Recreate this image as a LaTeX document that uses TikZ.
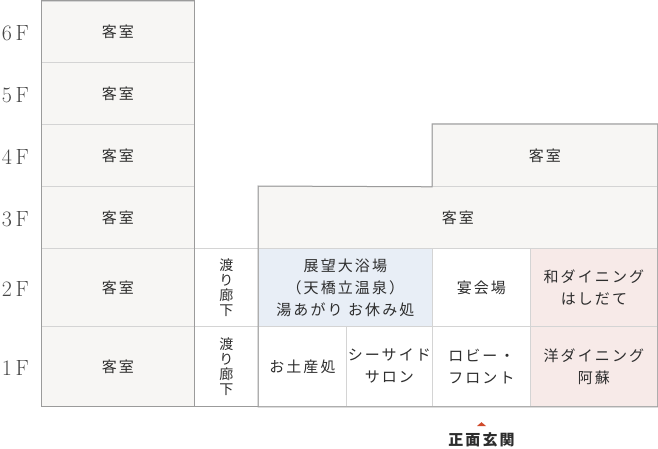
\documentclass[tikz,border=0pt]{standalone}
\usepackage{fontspec}
\newfontfamily\jpfont{Noto Sans CJK JP}[LetterSpace=14]
\newfontfamily\jpnarrow{Noto Sans CJK JP}
\usetikzlibrary{positioning}
\definecolor{RoomFill}{RGB}{247,246,244}
\definecolor{BathFill}{RGB}{232,238,246}
\definecolor{DiningFill}{RGB}{247,234,232}
\definecolor{InnerLine}{RGB}{212,212,212}
\definecolor{OuterLine}{RGB}{155,155,155}
\definecolor{LabelGray}{RGB}{45,45,45}
\definecolor{FloorGray}{RGB}{70,70,70}
\definecolor{EntranceRed}{RGB}{208,74,43}
\tikzset{
  cell/.style={draw=InnerLine, line width=0.8pt, anchor=north west, inner sep=0pt,
               align=center, text=LabelGray, font=\jpfont\fontsize{15}{22}\selectfont},
  room/.style={cell, fill=RoomFill},
  bath/.style={cell, fill=BathFill},
  dining/.style={cell, fill=DiningFill},
  hall/.style={cell, fill=white},
  corridor/.style={cell, fill=white, font=\jpnarrow\fontsize{14}{15}\selectfont},
  floorlbl/.style={font=\fontsize{22}{24}\selectfont, text=FloorGray, inner sep=0pt, yshift=-1.5pt},
  outline/.style={draw=OuterLine, line width=1pt},
}

\begin{document}
\begin{tikzpicture}[x=1pt, y=-1pt]
  \useasboundingbox (0,0) rectangle (658,449);

  % left tower
  \node[room, minimum width=153pt, minimum height=61pt] (t6) at (41,1)   {客室};
  \node[room, minimum width=153pt, minimum height=62pt] (t5) at (41,62)  {客室};
  \node[room, minimum width=153pt, minimum height=62pt] (t4) at (41,124) {客室};
  \node[room, minimum width=153pt, minimum height=62pt] (t3) at (41,186) {客室};
  \node[room, minimum width=153pt, minimum height=78pt] (t2) at (41,248) {客室};
  \node[room, minimum width=153pt, minimum height=80pt] (t1) at (41,326) {客室};

  \node[floorlbl, left=12pt of t6] (f6) {6\,F};
  \node[floorlbl, left=12pt of t5] (f5) {5\,F};
  \node[floorlbl, left=12pt of t4] (f4) {4\,F};
  \node[floorlbl, left=12pt of t3] (f3) {3\,F};
  \node[floorlbl, left=12pt of t2] (f2) {2\,F};
  \node[floorlbl, left=12pt of t1] (f1) {1\,F};

  % corridor
  \node[corridor, minimum width=64pt, minimum height=78pt] (c2) at (194,248) {渡\\り\\廊\\下};
  \node[corridor, minimum width=64pt, minimum height=80pt] (c1) at (194,326) {渡\\り\\廊\\下};

  % main building
  \node[room, minimum width=225pt, minimum height=62pt] (k4) at (432,124) {客室};
  \node[room, minimum width=399pt, minimum height=62pt] (k3) at (258,186) {客室};

  \node[bath,   minimum width=174pt, minimum height=78pt] (bath)    at (258,248) {展望大浴場\\（天橋立温泉）\\湯あがり お休み処};
  \node[hall,   minimum width=98pt,  minimum height=78pt] (banquet) at (432,248) {宴会場};
  \node[dining, minimum width=127pt, minimum height=78pt] (washoku) at (530,248) {和ダイニング\\はしだて};

  \node[hall,   minimum width=88pt,  minimum height=80pt] (shop)    at (258,326) {お土産処};
  \node[hall,   minimum width=86pt,  minimum height=80pt] (salon)   at (346,326) {シーサイド\\サロン};
  \node[hall,   minimum width=98pt,  minimum height=80pt] (lobby)   at (432,326) {ロビー・\\フロント};
  \node[dining, minimum width=127pt, minimum height=80pt] (yoshoku) at (530,326) {洋ダイニング\\阿蘇};

  % outer walls
  \draw[outline] (t6.north west) rectangle (t1.south east);
  \draw[outline] (shop.south west) -- (k3.north west) -- (k4.south west) -- (k4.north west)
                 -- (k4.north east) -- (yoshoku.south east) -- cycle;
  \draw[outline] (t1.south east) -- (shop.south west);

  % entrance
  \coordinate (door) at (481.5,426);
  \fill[EntranceRed] (door) ++(-4.5,0) -- ++(9,0) -- ++(-4.5,-3.8) -- cycle;
  \node[below=6pt of door, inner sep=0pt, text=LabelGray,
        font=\jpfont\bfseries\fontsize{15}{18}\selectfont] (entrance) {正面玄関};
\end{tikzpicture}
\end{document}
